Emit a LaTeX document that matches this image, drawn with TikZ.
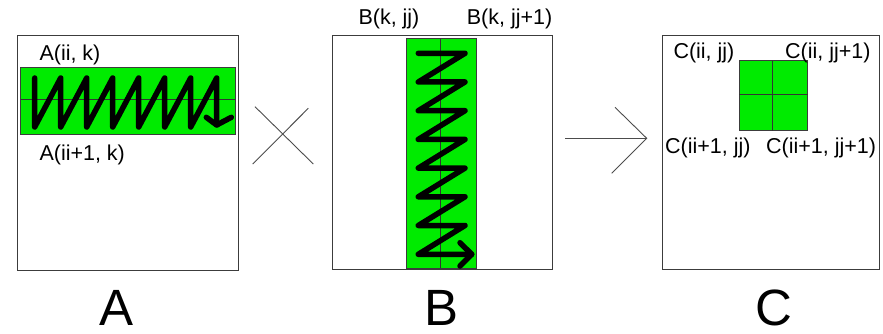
\documentclass[tikz,border=0pt]{standalone}
\usepackage{fontspec}
\setmainfont{Liberation Sans}
\definecolor{brightgreen}{RGB}{0,235,0}
\definecolor{boxline}{RGB}{60,60,60}
\begin{document}
\begin{tikzpicture}[x=1pt,y=-1pt,
  panel/.style={draw=boxline, line width=1pt},
  strip/.style={draw=boxline, fill=brightgreen, line width=1pt},
  divline/.style={draw=black!80, line width=0.9pt},
  zig/.style={draw=black, line width=5.5pt, line cap=round, line join=round},
  lbl/.style={inner sep=0pt, anchor=base west, font=\fontsize{21.5}{24}\selectfont},
  biglbl/.style={inner sep=0pt, anchor=base, text depth=0pt, text height=37pt, font=\fontsize{51}{56}\selectfont},
  opsym/.style={draw=black!70, line width=0.9pt}]
\useasboundingbox (0,0) rectangle (883,334);
% ---------- A ----------
\draw[panel] (17.7,35.7) rectangle (238.3,270.7);
\draw[strip] (20.7,67.3) rectangle (235.3,135);
\draw[divline] (20.7,99.3) -- (235.3,99.3);
\draw[zig] (34.7,78) -- (34.7,127)
  -- (60.7,78) -- (60.7,127)
  -- (86.7,78) -- (86.7,127)
  -- (112.7,78) -- (112.7,127)
  -- (138.7,78) -- (138.7,127)
  -- (164.7,78) -- (164.7,127)
  -- (190.7,78) -- (190.7,127)
  -- (216.7,78) -- (216.7,125);
\draw[zig] (206.3,117.3) -- (216.7,125) -- (231.3,117.3);
\node[lbl] (a1) at (39.3,61) {A(ii, k)};
\node[lbl] (a2) at (39.3,160.5) {A(ii+1, k)};
% ---------- times ----------
\coordinate (x1) at (255,106.7);
\coordinate (x2) at (313.3,164);
\coordinate (x3) at (308.3,108.3);
\coordinate (x4) at (252.7,164);
\draw[opsym] (x1) -- (x2);
\draw[opsym] (x3) -- (x4);
% ---------- B ----------
\draw[panel] (332.3,35.7) rectangle (552,269.3);
\draw[strip] (406,38.7) rectangle (476,268.3);
\draw[divline] (440,38.7) -- (440,268.3);
\draw[zig] (418.3,53.3) -- (465,53.3)
  -- (418.3,82) -- (465,82)
  -- (418.3,110.7) -- (465,110.7)
  -- (418.3,139.4) -- (465,139.4)
  -- (418.3,168.1) -- (465,168.1)
  -- (418.3,196.8) -- (465,196.8)
  -- (418.3,225.5) -- (465,225.5)
  -- (418.3,254.3) -- (471.7,254.3);
\draw[zig] (460,242.7) -- (471.7,254.3) -- (460,266);
\node[lbl] (b1) at (358.3,25) {B(k, jj)};
\node[lbl] (b2) at (466.7,25) {B(k, jj+1)};
% ---------- arrow ----------
\coordinate (r1) at (565,138.3);
\coordinate (r2) at (646.7,138.3);
\coordinate (r3) at (615,107.3);
\coordinate (r4) at (611.7,173.3);
\draw[opsym] (r1) -- (r2);
\draw[opsym] (r3) -- (r2) -- (r4);
% ---------- C ----------
\draw[panel] (662.3,35.7) rectangle (879.3,269.3);
\draw[strip] (739,60.7) rectangle (807.7,131);
\draw[divline] (772.3,60.7) -- (772.3,131);
\draw[divline] (739,94) -- (807.7,94);
\node[lbl] (c1) at (673.3,59) {C(ii, jj)};
\node[lbl] (c2) at (785,59) {C(ii, jj+1)};
\node[lbl] (c3) at (665,153.3) {C(ii+1, jj)};
\node[lbl] (c4) at (766,153.3) {C(ii+1, jj+1)};
% ---------- big letters ----------
\node[biglbl] (bigA) at (117,325) {A};
\node[biglbl] (bigB) at (441.7,325) {B};
\node[biglbl] (bigC) at (774.2,325) {C};
\end{tikzpicture}
\end{document}
